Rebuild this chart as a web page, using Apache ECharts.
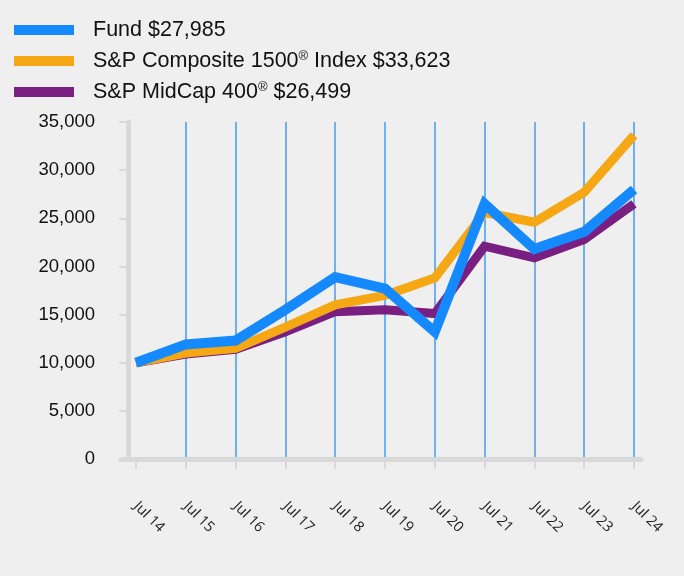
<!DOCTYPE html>
<html>
<head>
<meta charset="utf-8">
<script src="https://cdn.jsdelivr.net/npm/echarts@6/dist/echarts.min.js"></script>
<style>
html,body{margin:0;padding:0;background:#efefef;}
#c{width:684px;height:576px;}
</style>
</head>
<body>
<div id="c"></div>
<script>
var categories = ['Jul 14','Jul 15','Jul 16','Jul 17','Jul 18','Jul 19','Jul 20','Jul 21','Jul 22','Jul 23','Jul 24'];
var fundName = 'Fund $27,985';
var compositeName = 'S&P Composite 1500® Index $33,623';
var midcapName = 'S&P MidCap 400® $26,499';
var fund = [10000, 11900, 12300, 15500, 18900, 17700, 13200, 26500, 21800, 23600, 27985];
var composite = [10000, 11000, 11500, 13700, 16000, 17000, 18800, 25600, 24600, 27700, 33623];
var midcap = [10000, 10900, 11400, 13200, 15300, 15500, 15100, 22100, 20900, 22800, 26499];
var yTicks = {min: 0, max: 35000, interval: 5000};

var chart = echarts.init(document.getElementById('c'), null, {renderer: 'canvas'});
function fmtLegend(name) {
  var parts = name.split('®');
  if (parts.length === 1) return '{t|' + name + '}';
  return '{t|' + parts[0] + '}{sup|®}{t|' + parts[1] + '}';
}
var axisGray = '#d9d9d9';
chart.setOption({
  backgroundColor: '#efefef',
  animation: false,
  legend: {
    orient: 'vertical',
    left: 9,
    top: 14,
    icon: 'rect',
    itemWidth: 60,
    itemHeight: 10,
    itemGap: 9,
    data: [fundName, compositeName, midcapName],
    formatter: fmtLegend,
    textStyle: {
      padding: [0, 0, 0, 14],
      rich: {
        t: {fontFamily: 'Liberation Sans, Arial, sans-serif', fontSize: 21.5, color: '#111', lineHeight: 22},
        sup: {fontFamily: 'Liberation Sans, Arial, sans-serif', fontSize: 13, color: '#111', verticalAlign: 'top', lineHeight: 22, padding: [0, 0, 8, 0]}
      }
    }
  },
  grid: [
    {left: 136, right: 50, top: 122, bottom: 117},
    {left: 121, right: 43, top: 122, bottom: 117}
  ],
  xAxis: [
    {
      type: 'category',
      gridIndex: 0,
      data: categories,
      boundaryGap: false,
      axisLine: {show: false},
      axisTick: {show: true, length: 10, lineStyle: {color: axisGray, width: 2}},
      splitLine: {show: true, showMinLine: false, lineStyle: {color: '#6cb0f5', width: 2}},
      axisLabel: {rotate: -45, margin: 45, fontFamily: 'Open Sans, sans-serif', fontSize: 14.5, color: '#222'}
    },
    {
      type: 'value',
      gridIndex: 1,
      min: 0, max: 1,
      axisLine: {show: true, lineStyle: {color: axisGray, width: 5}},
      axisTick: {show: false},
      axisLabel: {show: false},
      splitLine: {show: false}
    }
  ],
  yAxis: [
    {
      type: 'value',
      gridIndex: 0,
      min: yTicks.min, max: yTicks.max, interval: yTicks.interval,
      offset: 8,
      axisLine: {show: true, lineStyle: {color: axisGray, width: 5}},
      axisTick: {show: true, length: 9, lineStyle: {color: axisGray, width: 2}},
      splitLine: {show: false},
      axisLabel: {
        margin: 33,
        fontFamily: 'Liberation Sans, Arial, sans-serif',
        fontSize: 18.5,
        color: '#111',
        formatter: function (v) { return v.toLocaleString('en-US'); }
      }
    },
    {
      type: 'value',
      gridIndex: 1,
      show: false,
      min: 0, max: 1
    }
  ],
  series: [
    {name: fundName, type: 'line', data: fund, z: 4, color: '#1589ff', showSymbol: false, symbol: 'none', lineStyle: {width: 10, color: '#1589ff', cap: 'butt', join: 'miter'}},
    {name: compositeName, type: 'line', data: composite, z: 3, color: '#f5a714', showSymbol: false, symbol: 'none', lineStyle: {width: 9, color: '#f5a714', join: 'miter'}},
    {name: midcapName, type: 'line', data: midcap, z: 2, color: '#7a1f82', showSymbol: false, symbol: 'none', lineStyle: {width: 9, color: '#7a1f82', join: 'miter'}}
  ]
});
</script>
</body>
</html>
